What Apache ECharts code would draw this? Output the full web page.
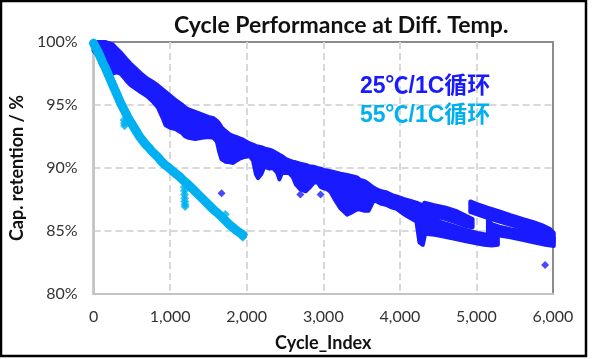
<!DOCTYPE html>
<html>
<head>
<meta charset="utf-8">
<script src="https://cdn.jsdelivr.net/npm/echarts@6/dist/echarts.min.js"></script>
<style>
html,body{margin:0;padding:0;background:#fff;}
#chart{width:593px;height:359px;}
</style>
</head>
<body>
<div id="chart"></div>
<script>
// ---------- DATA ----------
const titleText = 'Cycle Performance at Diff. Temp.';
const xName = 'Cycle_Index';
const yName = 'Cap. retention / %';
const seriesNames = ['25℃/1C循环', '55℃/1C循环'];
const xTicks = [0, 1000, 2000, 3000, 4000, 5000, 6000];
const yTicks = [80, 85, 90, 95, 100];

// 55°C / 1C : centre line of the dense point band
const cycles55 = [0,25,50,75,100,125,150,175,200,225,250,275,300,325,350,375,400,425,450,475,
  500,525,550,575,600,625,650,675,700,725,750,775,800,825,850,875,900,925,950,975,
  1000,1025,1050,1075,1100,1125,1150,1175,1200,1225,1250,1275,1300,1325,1350,1375,1400,1425,1450,1475,
  1500,1525,1550,1575,1600,1625,1650,1675,1700,1725,1750,1775,1800,1825,1850,1875,1900,1925,1950];
const values55 = [99.9,99.6,99.3,99.0,98.65,98.3,98.0,97.65,97.3,96.95,96.6,96.25,95.9,95.55,95.2,94.9,94.6,94.3,94.0,93.75,
  93.5,93.25,93.0,92.75,92.5,92.3,92.1,91.9,91.75,91.6,91.4,91.25,91.1,90.95,90.8,90.6,90.45,90.3,90.2,90.05,
  89.95,89.8,89.7,89.55,89.4,89.3,89.15,89.0,88.85,88.75,88.6,88.45,88.3,88.15,88.0,87.85,87.7,87.55,87.4,87.25,
  87.1,86.95,86.8,86.65,86.5,86.4,86.25,86.1,85.95,85.8,85.65,85.5,85.4,85.25,85.1,85.0,84.9,84.8,84.7];
// 55°C outlying points (small protrusions)
const extra55 = [[398,93.8],[402,93.55],[405,93.35],[1185,88.5],[1187,88.2],[1188,87.9],[1190,87.6],[1192,87.35],
  [1194,87.1],[1196,86.95],[1720,86.3],[1935,84.6],[1950,84.5]];

// 25°C / 1C : point bands as [cycle, upper edge %, lower edge %]
const band25Main = [
  [0,100.0,99.3],[40,100.0,99.0],[100,100.0,98.7],[150,100.0,98.4],[200,99.9,97.8],[250,99.8,97.5],
  [300,99.5,97.6],[350,99.2,97.5],[420,98.7,97.0],[480,98.3,96.6],[550,97.9,96.3],[620,97.5,96.0],
  [700,97.1,95.7],[770,96.85,95.3],[840,96.55,94.8],[900,96.25,94.0],[940,96.05,93.4],[1000,95.75,93.2],
  [1069,95.4,93.1],[1150,95.05,92.8],[1198,94.8,92.5],[1241,94.65,92.4],[1328,94.45,92.3],[1414,94.25,92.4],
  [1500,94.05,92.45],[1565,93.95,92.4],[1610,93.75,92.1],[1640,93.55,91.3],[1670,93.25,90.7],[1720,92.95,90.5],
  [1781,92.65,90.45],[1823,92.55,90.4],[1870,92.45,90.6],[1910,92.35,90.75],[1953,92.25,90.85],[2039,91.95,90.95],
  [2082,91.85,90.6],[2120,91.75,89.5],[2147,91.7,89.2],[2190,91.65,89.5],[2230,91.55,90.1],[2298,91.45,89.95],
  [2341,91.35,90.0],[2400,91.15,89.6],[2427,91.05,89.1],[2460,90.95,89.6],[2513,90.7,89.6],[2555,90.6,89.6],
  [2600,90.5,89.3],[2642,90.45,88.7],[2700,90.35,88.3],[2771,90.25,88.15],[2815,90.15,88.4],[2870,90.1,88.8],
  [2923,90.0,88.9],[2965,89.95,88.5],[3000,89.85,88.4],[3052,89.8,88.3],[3095,89.75,88.1],[3160,89.65,87.4],
  [3224,89.55,86.8],[3310,89.45,86.3],[3380,89.35,86.5],[3440,89.25,86.7],[3483,89.05,86.7],[3540,88.95,86.6],
  [3591,88.75,86.6],[3656,88.45,87.4],[3698,88.3,87.35],[3760,88.15,87.15],[3830,88.05,87.05],[3900,87.85,86.85],
  [3957,87.75,86.75],[4048,87.55,86.35],[4130,87.4,86.05],[4216,87.25,85.75],[4255,87.15,84.1],[4300,87.05,83.9],
  [4345,86.85,85.2]];
const band25Upper1 = [[4320,87.25,86.4],[4450,87.05,86.2],[4600,86.85,85.95],[4750,86.55,85.65],[4884,86.15,85.35],[4950,85.95,85.3]];
const band25Lower1 = [[4300,86.4,84.8],[4453,86.0,84.7],[4539,85.7,84.6],[4700,85.4,84.4],[4850,85.1,84.2],
  [5014,84.85,84.0],[5100,84.75,83.9],[5200,84.6,83.85],[5280,84.45,83.9]];
const band25Upper2 = [[4920,87.35,86.5],[5000,87.15,86.35],[5143,86.85,86.05],[5300,86.55,85.75],[5444,86.25,85.5],
  [5600,85.95,85.25],[5746,85.7,85.0],[5880,85.4,84.65],[5962,85.15,84.3],[6010,84.85,84.1]];
const band25Lower2 = [[5150,85.9,84.9],[5200,85.55,84.8],[5300,85.35,84.65],[5444,85.15,84.5],[5600,85.0,84.3],
  [5746,84.85,84.1],[5900,84.65,83.9],[6010,84.45,83.8]];
// 25°C isolated outlying points
const outliers25 = [[1672,88.0],[2700,87.9],[2965,87.9],[5897,82.3]];

// ---------- CHART ----------
const blue = '#1a1aff';
const cyan = '#00b0f0';
const bands25 = [band25Main, band25Upper1, band25Lower1, band25Upper2, band25Lower2];
const data55 = cycles55.map((c, i) => [c, values55[i]]);

const chart = echarts.init(document.getElementById('chart'), null, {renderer: 'canvas'});
const fontLatin = 'Lato, "Liberation Sans", sans-serif';

chart.setOption({
  animation: false,
  backgroundColor: '#ffffff',
  title: {
    text: titleText,
    left: 174, top: 14, padding: 0,
    textStyle: {fontFamily: fontLatin, fontWeight: 'bold', fontSize: 23, color: '#111'}
  },
  legend: {
    orient: 'vertical',
    left: 350, top: 69,
    icon: 'none', itemWidth: 0, itemHeight: 20, itemGap: 3,
    selectedMode: false,
    data: [
      {name: seriesNames[0], textStyle: {color: blue}},
      {name: seriesNames[1], textStyle: {color: cyan}}
    ],
    textStyle: {fontFamily: '"Liberation Sans", "Noto Sans CJK SC", sans-serif', fontWeight: 'bold', fontSize: 23, lineHeight: 26}
  },
  grid: {left: 89, right: 40, top: 42, bottom: 65, show: true, borderColor: '#8c8c8c', borderWidth: 2, backgroundColor: 'transparent'},
  xAxis: {
    type: 'value', min: xTicks[0], max: xTicks[xTicks.length - 1], interval: xTicks[1] - xTicks[0],
    name: xName, nameLocation: 'middle', nameGap: 40,
    nameTextStyle: {fontFamily: fontLatin, fontWeight: 'bold', fontSize: 18, color: '#111'},
    axisLine: {lineStyle: {color: '#c4c4c4', width: 2}},
    axisTick: {show: false},
    axisLabel: {margin: 15, fontFamily: fontLatin, fontSize: 16, color: '#333',
      formatter: v => v.toLocaleString('en-US')},
    splitLine: {show: true, showMinLine: false, showMaxLine: false, lineStyle: {color: '#d9d9d9', width: 2, type: [7, 4]}}
  },
  yAxis: {
    type: 'value', min: yTicks[0], max: yTicks[yTicks.length - 1], interval: yTicks[1] - yTicks[0],
    name: yName, nameLocation: 'middle', nameGap: 61, nameRotate: 90,
    nameTextStyle: {fontFamily: fontLatin, fontWeight: 'bold', fontSize: 18, color: '#111'},
    axisLine: {show: true, lineStyle: {color: '#c4c4c4', width: 2}},
    axisTick: {show: false},
    axisLabel: {margin: 16, fontFamily: fontLatin, fontSize: 16, color: '#333', formatter: '{value}%'},
    splitLine: {show: true, showMinLine: false, showMaxLine: false, lineStyle: {color: '#d9d9d9', width: 2, type: [7, 4]}}
  },
  series: [
    {
      name: seriesNames[0],
      type: 'custom',
      z: 2,
      itemStyle: {color: blue},
      data: bands25.map((b, i) => [b[0][0], b[0][1], i]),
      encode: {x: 0, y: 1},
      renderItem: function (params, api) {
        const band = bands25[api.value(2)];
        const upper = band.map(p => api.coord([p[0], p[1]]));
        const lower = band.slice().reverse().map(p => api.coord([p[0], p[2]]));
        return {
          type: 'polygon',
          shape: {points: upper.concat(lower)},
          style: {fill: blue, stroke: blue, lineWidth: 4, lineJoin: 'round'}
        };
      }
    },
    {
      name: seriesNames[0],
      type: 'scatter',
      z: 2,
      symbol: 'diamond',
      symbolSize: 8,
      itemStyle: {color: blue},
      data: outliers25
    },
    {
      name: seriesNames[1],
      type: 'line',
      z: 3,
      symbol: 'diamond',
      symbolSize: 10,
      showSymbol: true,
      itemStyle: {color: cyan},
      lineStyle: {color: cyan, width: 9, cap: 'round', join: 'round'},
      data: data55
    },
    {
      name: seriesNames[1],
      type: 'scatter',
      z: 3,
      symbol: 'diamond',
      symbolSize: 9,
      itemStyle: {color: cyan},
      data: extra55
    }
  ],
  graphic: [{
    type: 'rect', silent: true, z: 100,
    shape: {x: 1, y: 1, width: 585, height: 355},
    style: {fill: 'none', stroke: '#000', lineWidth: 2.5}
  }]
});
</script>
</body>
</html>
